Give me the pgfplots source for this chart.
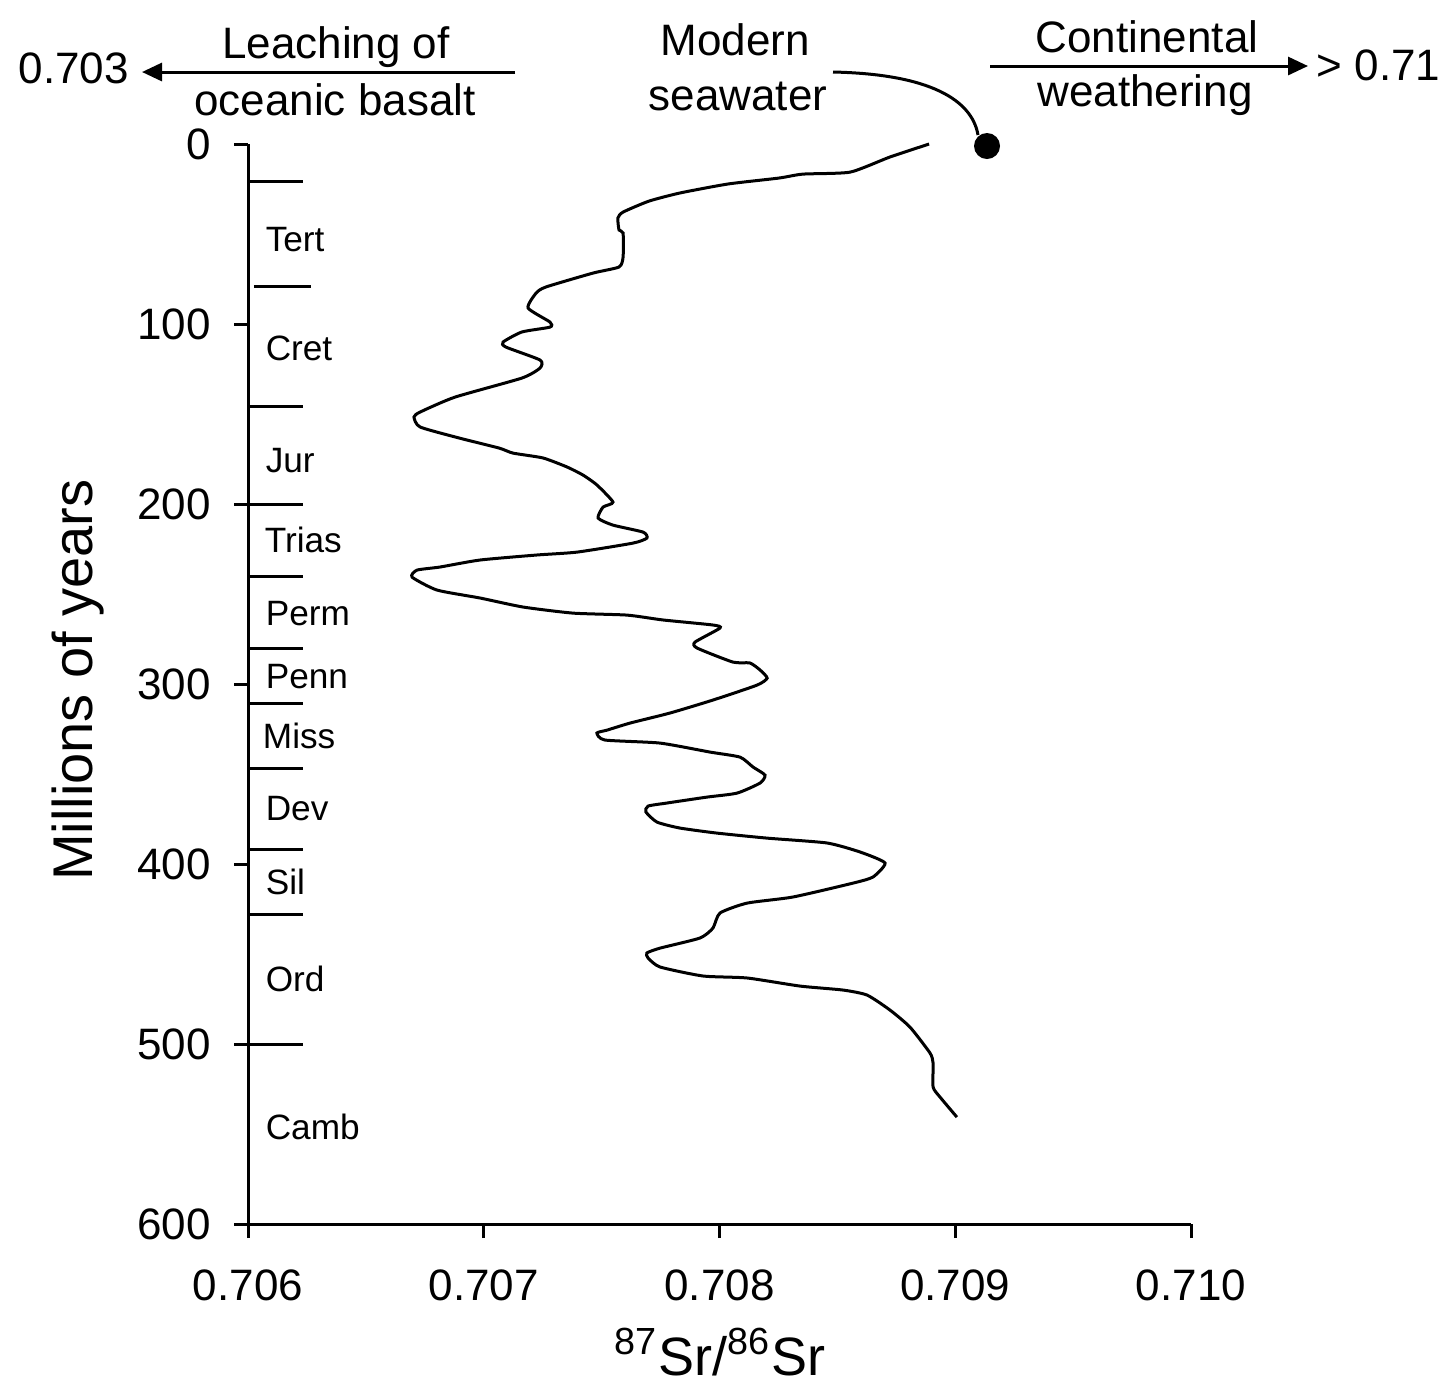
\documentclass[border=0pt]{standalone}
\usepackage{fontspec}
\setmainfont{Liberation Sans}
\usepackage{pgfplots}
\pgfplotsset{compat=1.18}
\usetikzlibrary{arrows.meta}

\pgfplotstableread{
x y
0.708889 0
0.708723 7.2
0.708554 15.6
0.708354 16.7
0.708252 18.9
0.708036 22.2
0.707832 27.2
0.707701 31.7
0.707591 37.8
0.707569 41.1
0.707574 47.8
0.707591 49.4
0.707591 62.8
0.707574 68.3
0.707463 71.7
0.707264 79.4
0.707222 82.8
0.707188 91.1
0.707281 98.9
0.707281 101.7
0.707162 104.4
0.707082 110.0
0.707094 112.8
0.707239 120.0
0.707239 124.4
0.707162 130.0
0.706878 140.6
0.706730 148.9
0.706704 151.7
0.706730 157.2
0.706895 163.3
0.707065 168.9
0.707124 171.7
0.707251 174.4
0.707353 179.4
0.707421 183.9
0.707480 189.4
0.707548 198.9
0.707506 201.7
0.707485 207.8
0.707548 211.7
0.707676 215.6
0.707692 218.9
0.707633 221.7
0.707396 226.7
0.707226 228.3
0.706984 231.1
0.706814 235.0
0.706717 236.7
0.706696 240.6
0.706802 247.8
0.706984 252.2
0.707166 257.2
0.707379 260.6
0.707608 261.7
0.707760 264.4
0.707972 267.2
0.708002 268.9
0.707896 276.7
0.707905 280.0
0.708057 287.8
0.708129 288.3
0.708172 292.2
0.708202 296.7
0.708159 300.6
0.707972 308.9
0.707790 316.1
0.707620 321.7
0.707523 325.6
0.707480 327.2
0.707514 331.1
0.707748 332.8
0.707960 337.8
0.708087 340.6
0.708142 346.1
0.708193 350.6
0.708172 355.0
0.708074 360.6
0.707947 362.8
0.707777 366.1
0.707697 367.8
0.707688 371.1
0.707735 376.7
0.707832 380.0
0.707989 382.8
0.708202 385.6
0.708456 388.3
0.708596 393.3
0.708702 399.4
0.708651 407.2
0.708566 410.6
0.708312 418.3
0.708117 421.7
0.708002 427.2
0.707972 435.6
0.707917 441.1
0.707748 446.7
0.707692 449.4
0.707697 452.2
0.707748 457.2
0.707930 462.2
0.708117 463.3
0.708342 467.8
0.708524 470.0
0.708626 472.8
0.708723 481.1
0.708808 490.6
0.708893 505.0
0.708906 510.6
0.708906 523.9
0.708935 529.4
0.709007 540.6
}\srdata

\begin{document}
\begin{tikzpicture}[x=0.25pt,y=-0.25pt]
\begin{axis}[
  at={(62pt,-306pt)}, anchor=south west,
  scale only axis, width=235.75pt, height=270pt,
  xmin=0.706, xmax=0.710, ymin=0, ymax=600, y dir=reverse,
  axis x line*=bottom, axis y line*=left,
  axis line style={line width=0.75pt,-},
  every tick/.style={line width=0.75pt,black},
  tick align=outside, major tick length=3.5pt,
  xtick={0.706,0.707,0.708,0.709,0.710},
  ytick={0,100,200,300,400,500,600},
  scaled x ticks=false,
  xticklabel style={font=\fontsize{11}{13}\selectfont, yshift=-4.5pt,
     /pgf/number format/.cd, fixed, fixed zerofill, precision=3, assume math mode=true},
  yticklabel style={font=\fontsize{11}{13}\selectfont, xshift=-2.3pt,
     /pgf/number format/assume math mode=true},
  clip=false,
]
\addplot[black, line width=0.75pt, mark=none, smooth, tension=0.35] table[x=x,y=y] {\srdata};
% period boundaries
\foreach \b in {21,146,200.5,240.5,280.5,311,347,392,428,500}{
  \edef\tmp{\noexpand\draw[line width=0.75pt] (axis cs:0.706,\b) -- (axis cs:0.706233,\b);}\tmp
}
\draw[line width=0.75pt] (axis cs:0.706025,79) -- (axis cs:0.706267,79);
\begin{scope}[every node/.style={anchor=west, inner sep=0pt, font=\fontsize{8.8}{10}\selectfont}]
\node at (axis cs:0.706072,53.3) {Tert};
\node at (axis cs:0.706072,113.3) {Cret};
\node at (axis cs:0.706072,176) {Jur};
\node at (axis cs:0.706068,220) {Trias};
\node at (axis cs:0.706072,261) {Perm};
\node at (axis cs:0.706072,296) {Penn};
\node at (axis cs:0.706060,329) {Miss};
\node at (axis cs:0.706072,369) {Dev};
\node at (axis cs:0.706072,410) {Sil};
\node at (axis cs:0.706072,464) {Ord};
\node at (axis cs:0.706072,546) {Camb};
\end{scope}
\end{axis}

% annotations in pixel coordinates
\begin{scope}[every node/.style={inner sep=0pt, font=\fontsize{11}{13}\selectfont}]
\node[anchor=base] at (336,58) {Leaching of};
\node[anchor=base] at (335,115) {oceanic basalt};
\node[anchor=base] at (735,55) {Modern};
\node[anchor=base] at (738,110) {seawater};
\node[anchor=base] at (1147,52) {Continental};
\node[anchor=base] at (1145,106) {weathering};
\node[anchor=base west] at (18,83) {0.703};
\node[anchor=base west] at (1316,80) {> 0.71};
\end{scope}
\draw[line width=0.75pt, -{Triangle[length=5pt,width=4.5pt]}] (515,72) -- (142,72);
\draw[line width=0.75pt, -{Triangle[length=5pt,width=4.5pt]}] (990,66) -- (1308,66);
\draw[line width=0.75pt] (833,72) .. controls (930,74) and (972,100) .. (978,135);
\fill (987,146) circle (3.25pt);

\node[rotate=90, inner sep=0pt, font=\fontsize{14}{16}\selectfont] at (78,680) {Millions of years};
\node[anchor=base, inner sep=0pt, font=\fontsize{13.5}{16}\selectfont] at (720,1375) {\textsuperscript{87}Sr/\textsuperscript{86}Sr};

\pgfresetboundingbox
\path[use as bounding box] (0,0) rectangle (1441,1385);
\end{tikzpicture}
\end{document}
